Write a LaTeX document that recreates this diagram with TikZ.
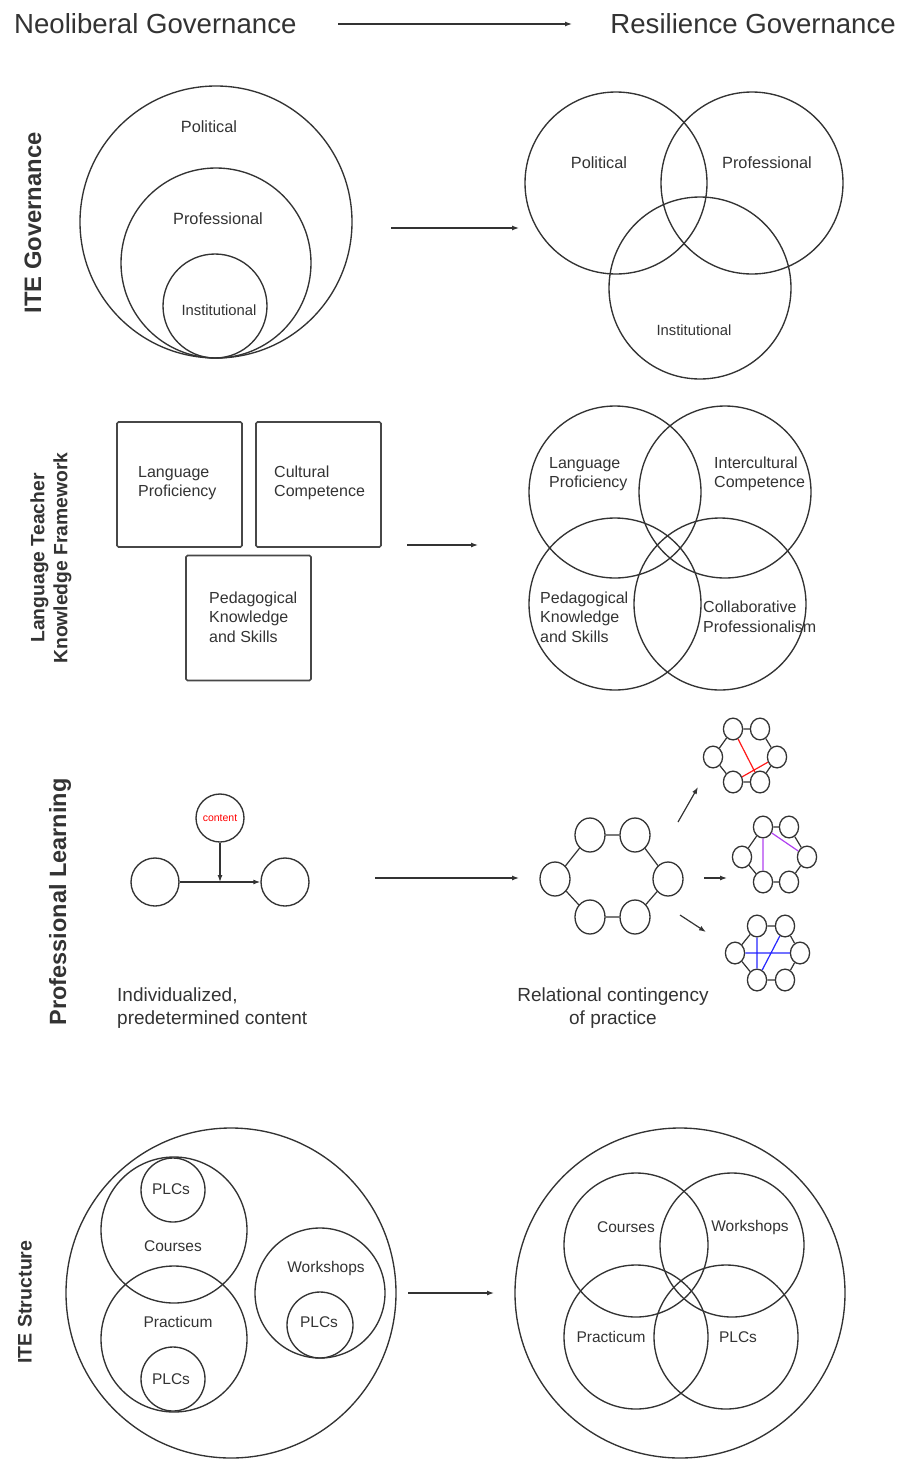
\documentclass[tikz,border=0pt]{standalone}
\usepackage{fontspec}
\setmainfont{Liberation Sans}
\usetikzlibrary{arrows.meta,shapes.geometric}
\definecolor{ink}{HTML}{333333}
\definecolor{purp}{HTML}{B040F0}
\begin{document}
\begin{tikzpicture}[x=1pt,y=-1pt,
  ring/.style={draw=ink, line width=1.35pt, circle, inner sep=0pt, minimum size=#1},
  sq/.style={draw=ink!90, line width=1.6pt, rectangle, rounded corners=1.5pt, inner sep=0pt, minimum width=125pt, minimum height=125pt},
  dot/.style={draw=ink, line width=1.3pt, ellipse, inner sep=0pt, minimum width=#1*30pt, minimum height=#1*34pt},
  arr/.style={draw=ink, line width=1.2pt, -{Latex[length=7pt,width=5pt]}},
  link/.style={draw=ink, line width=1.2pt},
  txt/.style={text=ink, inner sep=0pt, font=\fontsize{#1}{19.5}\selectfont},
  big/.style={text=ink, inner sep=0pt, font=\fontsize{19}{23}\selectfont},
  ttl/.style={text=ink, inner sep=0pt, font=\fontsize{27.6}{30}\selectfont},
  side/.style={text=ink, inner sep=0pt, rotate=90, align=center, font=\bfseries\fontsize{#1}{23}\selectfont}
]
\useasboundingbox (0,0) rectangle (902,1459);

% ---------- title ----------
\node[ttl, anchor=west] (neo) at (14,24) {Neoliberal Governance};
\node[ttl, anchor=east] (res) at (896,24) {Resilience Governance};
\coordinate (t1) at (338,24); \coordinate (t2) at (572,24);
\draw[arr] (t1) -- (t2);

% ---------- ITE Governance ----------
\node[side=23.8] (s1) at (33,223) {ITE Governance};
\node[ring=272pt] (pol) at (216,222) {};
\node[ring=190pt] (pro) at (216,263) {};
\node[ring=104pt] (ins) at (215,306) {};
\node[txt=16.3] (polL) at (209,127) {Political};
\node[txt=16.3] (proL) at (218,219) {Professional};
\node[txt=14.8] (insL) at (219,310) {Institutional};
\coordinate (a1) at (391,228); \coordinate (a2) at (519,228);
\draw[arr] (a1) -- (a2);
\node[ring=182pt] (rpol) at (616,183) {};
\node[ring=182pt] (rpro) at (752,183) {};
\node[ring=182pt] (rins) at (700,288) {};
\node[txt=16.3] (rpolL) at (599,163) {Political};
\node[txt=16.3] (rproL) at (767,163) {Professional};
\node[txt=14.8] (rinsL) at (694,330) {Institutional};

% ---------- Language Teacher Knowledge Framework ----------
\node[side=19.3] (s2) at (51,558) {Language Teacher\\Knowledge Framework};
\node[sq] (lp) at (179.5,484.5) {};
\node[sq] (cc) at (318.5,484.5) {};
\node[sq] (pk) at (248.5,618) {};
\node[txt=16, anchor=west, align=left] (lpL) at (138,483) {Language\\Proficiency};
\node[txt=16, anchor=west, align=left] (ccL) at (274,483) {Cultural\\Competence};
\node[txt=16, anchor=west, align=left] (pkL) at (209,617) {Pedagogical\\Knowledge\\and Skills};
\coordinate (b1) at (407,545); \coordinate (b2) at (478,545);
\draw[arr] (b1) -- (b2);
\node[ring=172pt] (rlp) at (615,492) {};
\node[ring=172pt] (ric) at (725,492) {};
\node[ring=172pt] (rpk) at (615,604) {};
\node[ring=172pt] (rcp) at (720,604) {};
\node[txt=16, anchor=west, align=left] (rlpL) at (549,474) {Language\\Proficiency};
\node[txt=16, anchor=west, align=left] (ricL) at (714,474) {Intercultural\\Competence};
\node[txt=16, anchor=west, align=left] (rpkL) at (540,617) {Pedagogical\\Knowledge\\and Skills};
\node[txt=16, anchor=west, align=left] (rcpL) at (703,617) {Collaborative\\Professionalism};

% ---------- Professional Learning ----------
\node[side=23.5] (s3) at (60,902) {Professional Learning};
\node[ring=48pt] (cont) at (220,818) {};
\node[txt=10.5, text=red] (contL) at (220,818) {content};
\node[ring=48pt] (lc) at (155,882) {};
\node[ring=48pt] (rc) at (285,882) {};
\coordinate (mid) at (220,882);
\draw[arr] (lc) -- (rc);
\draw[arr] (cont) -- (mid);
\node[big, anchor=west, align=left] (indL) at (117,1008) {Individualized,\\predetermined content};
\coordinate (c1) at (375,878); \coordinate (c2) at (519,878);
\draw[arr] (c1) -- (c2);

% big network
\node[dot=1] (h1) at (590,835) {};
\node[dot=1] (h2) at (635,835) {};
\node[dot=1] (h3) at (668,879) {};
\node[dot=1] (h4) at (635,917) {};
\node[dot=1] (h5) at (590,917) {};
\node[dot=1] (h6) at (555,879) {};
\draw[link] (h1) -- (h2) (h2) -- (h3) (h3) -- (h4) (h4) -- (h5) (h5) -- (h6) (h6) -- (h1);
\node[big, align=center] (relL) at (613,1008) {Relational contingency\\of practice};

\coordinate (d1) at (678,822); \coordinate (d2) at (698,787);
\coordinate (e1) at (704,878); \coordinate (e2) at (727,878);
\coordinate (f1) at (680,915); \coordinate (f2) at (706,932);
\draw[arr] (d1) -- (d2);
\draw[arr] (e1) -- (e2);
\draw[arr] (f1) -- (f2);

% small network 1 (red)
\node[dot=0.64] (p1) at (733,729) {};
\node[dot=0.64] (p2) at (760,729) {};
\node[dot=0.64] (p3) at (777,757) {};
\node[dot=0.64] (p4) at (760,782) {};
\node[dot=0.64] (p5) at (733,782) {};
\node[dot=0.64] (p6) at (713,757) {};
\draw[link] (p1) -- (p2) (p2) -- (p3) (p3) -- (p4) (p4) -- (p5) (p5) -- (p6) (p6) -- (p1);
\draw[red!90, line width=1.2pt] (p1) -- (p4) (p3) -- (p5);

% small network 2 (purple)
\node[dot=0.64] (q1) at (763,827) {};
\node[dot=0.64] (q2) at (789,827) {};
\node[dot=0.64] (q3) at (807,857) {};
\node[dot=0.64] (q4) at (789,882) {};
\node[dot=0.64] (q5) at (763,882) {};
\node[dot=0.64] (q6) at (742,857) {};
\draw[link] (q1) -- (q2) (q2) -- (q3) (q3) -- (q4) (q4) -- (q5) (q5) -- (q6) (q6) -- (q1);
\draw[purp, line width=1.2pt] (q1) -- (q3) (q1) -- (q5);

% small network 3 (blue)
\node[dot=0.64] (u1) at (757,926) {};
\node[dot=0.64] (u2) at (785,926) {};
\node[dot=0.64] (u3) at (800,953) {};
\node[dot=0.64] (u4) at (785,980) {};
\node[dot=0.64] (u5) at (757,980) {};
\node[dot=0.64] (u6) at (735,953) {};
\draw[link] (u1) -- (u2) (u2) -- (u3) (u3) -- (u4) (u4) -- (u5) (u5) -- (u6) (u6) -- (u1);
\draw[blue!85, line width=1.2pt] (u1) -- (u5) (u6) -- (u3) (u2) -- (u5);

% ---------- ITE Structure ----------
\node[side=19.6] (s4) at (25,1302) {ITE Structure};
\node[ring=330pt] (lbig) at (231,1293) {};
\node[ring=146pt] (lcou) at (174,1230) {};
\node[ring=64pt] (lplc1) at (173,1190) {};
\node[ring=146pt] (lpra) at (174,1339) {};
\node[ring=64pt] (lplc2) at (173,1379) {};
\node[ring=130pt] (lwor) at (320,1293) {};
\node[ring=66pt] (lplc3) at (320,1325) {};
\node[txt=15.5] (lcouL) at (173,1246) {Courses};
\node[txt=15.5] (lpraL) at (178,1322) {Practicum};
\node[txt=15.5] (lworL) at (326,1268) {Workshops};
\node[txt=15.5] (lplc1L) at (171,1189) {PLCs};
\node[txt=15.5] (lplc2L) at (171,1379) {PLCs};
\node[txt=15.5] (lplc3L) at (319,1322) {PLCs};
\coordinate (g1) at (408,1293); \coordinate (g2) at (494,1293);
\draw[arr] (g1) -- (g2);
\node[ring=330pt] (rbig) at (680,1293) {};
\node[ring=144pt] (rcou) at (636,1245) {};
\node[ring=144pt] (rwor) at (732,1245) {};
\node[ring=144pt] (rpra) at (636,1337) {};
\node[ring=144pt] (rplc) at (726,1337) {};
\node[txt=15.5] (rcouL) at (626,1227) {Courses};
\node[txt=15.5] (rworL) at (750,1227) {Workshops};
\node[txt=15.5] (rpraL) at (611,1337) {Practicum};
\node[txt=15.5] (rplcL) at (738,1337) {PLCs};
\end{tikzpicture}
\end{document}
